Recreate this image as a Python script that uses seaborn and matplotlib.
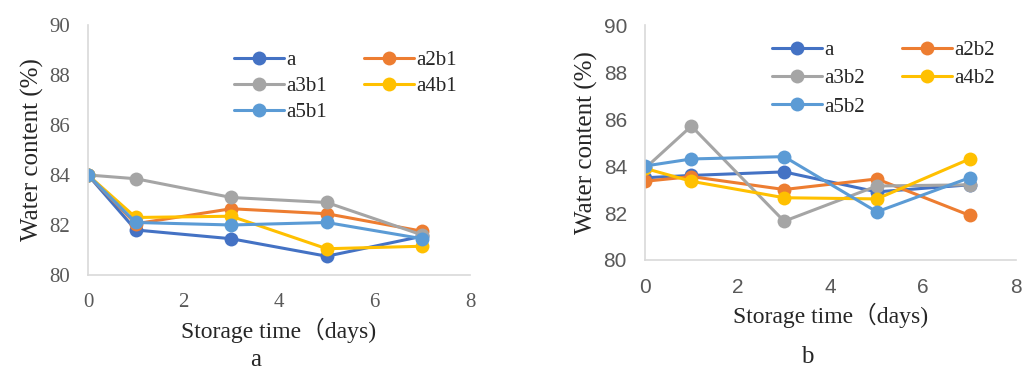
import matplotlib
matplotlib.use("Agg")
import matplotlib.pyplot as plt
import seaborn as sns
import pandas as pd

days = [0, 1, 3, 5, 7]

# Panel a
a_a    = [84.0, 81.8, 81.45, 80.75, 81.55]
a_a2b1 = [84.0, 82.05, 82.65, 82.45, 81.75]
a_a3b1 = [84.0, 83.85, 83.1, 82.9, 81.6]
a_a4b1 = [84.0, 82.3, 82.35, 81.05, 81.15]
a_a5b1 = [84.0, 82.1, 82.0, 82.1, 81.45]
names_a = ["a", "a2b1", "a3b1", "a4b1", "a5b1"]

# Panel b
b_a    = [83.5, 83.6, 83.75, 82.9, 83.2]
b_a2b2 = [83.35, 83.55, 83.0, 83.45, 81.9]
b_a3b2 = [83.9, 85.7, 81.65, 83.15, 83.2]
b_a4b2 = [83.9, 83.35, 82.65, 82.6, 84.3]
b_a5b2 = [84.0, 84.3, 84.4, 82.05, 83.5]
names_b = ["a", "a2b2", "a3b2", "a4b2", "a5b2"]

colors = ["#4472C4", "#ED7D31", "#A5A5A5", "#FFC000", "#5B9BD5"]
yticks = [80, 82, 84, 86, 88, 90]
xticks = [0, 2, 4, 6, 8]


def long_df(names, series):
    rows = []
    for n, vals in zip(names, series):
        for d, v in zip(days, vals):
            rows.append({"day": d, "wc": v, "series": n})
    return pd.DataFrame(rows)


sns.set_theme(style="white")
SERIF = ["Liberation Serif", "Noto Sans CJK SC", "DejaVu Serif"]
plt.rcParams["font.family"] = SERIF

fig = plt.figure(figsize=(10.22, 3.70), dpi=100)
axA = fig.add_axes([0.0861, 0.2568, 0.3738, 0.6757])
axB = fig.add_axes([0.6311, 0.2973, 0.3630, 0.6350])


def draw(ax, names, series, tickfont, legpos, lspace):
    df = long_df(names, series)
    sns.lineplot(data=df, x="day", y="wc", hue="series", hue_order=names,
                 palette=dict(zip(names, colors)), marker="o", markersize=10,
                 markeredgewidth=0, linewidth=2.2, sort=False, ax=ax,
                 legend=True)
    ax.set_xlim(0, 8)
    ax.set_ylim(80, 90)
    ax.set_xticks(xticks)
    ax.set_yticks(yticks)
    for lab in ax.get_xticklabels() + ax.get_yticklabels():
        lab.set_family(tickfont)
        lab.set_color("#595959")
        lab.set_fontsize(15)
    ax.tick_params(axis="both", length=0, pad=13)
    for s in ["top", "right"]:
        ax.spines[s].set_visible(False)
    for s in ["left", "bottom"]:
        ax.spines[s].set_color("#D9D9D9")
        ax.spines[s].set_linewidth(1.2)
    ax.set_xlabel("Storage time（days)", fontsize=17, labelpad=4,
                  family=SERIF)
    ax.set_ylabel("Water content (%)", fontsize=18, labelpad=4,
                  family=SERIF)
    handles, labels = ax.get_legend_handles_labels()
    hmap = dict(zip(labels, handles))
    order = [names[0], names[2], names[4], names[1], names[3]]
    ax.legend([hmap[n] for n in order], order, ncol=2, frameon=False,
              loc="upper left", bbox_to_anchor=legpos, fontsize=15,
              handlelength=2.4, handletextpad=0.1, columnspacing=1.8,
              labelspacing=lspace, borderaxespad=0)
    ax.set_facecolor("white")


draw(axA, names_a, [a_a, a_a2b1, a_a3b1, a_a4b1, a_a5b1],
     ["Liberation Serif"], (0.36, 0.93), 0.3)
draw(axB, names_b, [b_a, b_a2b2, b_a3b2, b_a4b2, b_a5b2],
     ["Liberation Sans"], (0.32, 0.97), 0.42)

fig.text(0.250, 0.010, "a", fontsize=18, ha="center")
fig.text(0.790, 0.018, "b", fontsize=18, ha="center")

fig.savefig("out.png", dpi=100, facecolor="white")
